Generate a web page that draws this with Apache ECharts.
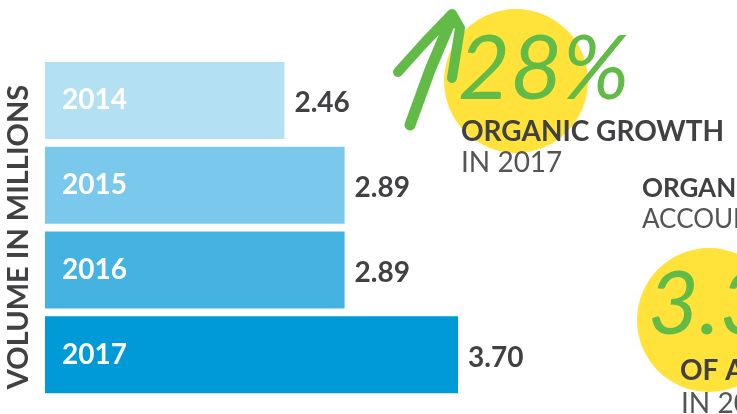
<!DOCTYPE html>
<html>
<head>
<meta charset="utf-8">
<script src="https://cdn.jsdelivr.net/npm/echarts@6/dist/echarts.min.js"></script>
<style>html,body{margin:0;padding:0;background:#fff}#c{width:737px;height:414px}</style>
</head>
<body>
<div id="c"></div>
<script>
var years = ['2014', '2015', '2016', '2017'];
var volumes = [2.46, 2.89, 2.89, 3.70];
var barColors = ['#B3E0F2', '#7AC8EC', '#45B3E2', '#009AD9'];
var axisTitle = 'VOLUME IN MILLIONS';
var growthValue = '28%';
var growthTitle = 'ORGANIC GROWTH';
var growthSub = 'IN 2017';
var shareIntro1 = 'ORGANIC';
var shareIntro2 = 'ACCOUNTS';
var shareValue = '3.3%';
var shareTitle = 'OF ALL';
var shareSub = 'IN 2017';

var dark = '#414042';
var green = '#62BB46';
var yellow = '#FFE33B';
var font = 'Lato';

var chart = echarts.init(document.getElementById('c'), null, {renderer: 'canvas'});
chart.setOption({
  animation: false,
  grid: {left: 45, top: 58, width: 455, height: 339},
  xAxis: {type: 'value', min: 0.75, max: 4.0, show: false},
  yAxis: {
    type: 'category', data: years, inverse: true, z: 10,
    axisLine: {show: false}, axisTick: {show: false}, splitLine: {show: false},
    axisLabel: {inside: true, margin: 17, color: '#fff', fontSize: 28, fontWeight: 'bold', fontFamily: font}
  },
  series: [{
    type: 'bar', barWidth: 77,
    data: volumes.map(function (v, i) { return {value: v, itemStyle: {color: barColors[i]}}; }),
    label: {
      show: true, position: 'right', distance: 10, offset: [0, 3],
      formatter: function (p) { return p.value.toFixed(2); },
      color: dark, fontSize: 28, fontWeight: 'bold', fontFamily: font
    }
  }],
  graphic: [
    {type: 'text', x: 19, y: 237, rotation: Math.PI / 2,
      style: {text: axisTitle, fill: dark, font: 'bold 29px Lato', align: 'center', verticalAlign: 'middle'}},
    {type: 'circle', shape: {cx: 516, cy: 81, r: 72}, style: {fill: yellow}},
    {type: 'polyline', shape: {points: [[398, 72], [425, 42], [452, 14], [460, 28], [452, 78]]},
      style: {stroke: green, lineWidth: 10, lineCap: 'round', lineJoin: 'round', fill: null}},
    {type: 'polyline', shape: {points: [[410, 125], [430, 70], [452, 18]]},
      style: {stroke: green, lineWidth: 11, lineCap: 'round', lineJoin: 'round', fill: null}},
    {type: 'text', x: 458, y: 70,
      style: {text: growthValue, fill: green, font: 'italic 400 90px Lato', verticalAlign: 'middle'}},
    {type: 'text', x: 461, y: 132,
      style: {text: growthTitle, fill: dark, font: 'bold 28px Lato', verticalAlign: 'middle'}},
    {type: 'text', x: 461, y: 163,
      style: {text: growthSub, fill: '#555557', font: '400 28px Lato', verticalAlign: 'middle'}},
    {type: 'text', x: 642, y: 189,
      style: {text: shareIntro1, fill: dark, font: 'bold 26px Lato', verticalAlign: 'middle'}},
    {type: 'text', x: 642, y: 220,
      style: {text: shareIntro2, fill: '#555557', font: '400 26px Lato', verticalAlign: 'middle'}},
    {type: 'circle', shape: {cx: 709, cy: 320, r: 72}, style: {fill: yellow}},
    {type: 'text', x: 648, y: 306,
      style: {text: shareValue, fill: green, font: 'italic 400 88px Lato', verticalAlign: 'middle'}},
    {type: 'text', x: 680, y: 371,
      style: {text: shareTitle, fill: dark, font: 'bold 28px Lato', verticalAlign: 'middle'}},
    {type: 'text', x: 681, y: 404,
      style: {text: shareSub, fill: '#555557', font: '400 28px Lato', verticalAlign: 'middle'}}
  ]
});
</script>
</body>
</html>
